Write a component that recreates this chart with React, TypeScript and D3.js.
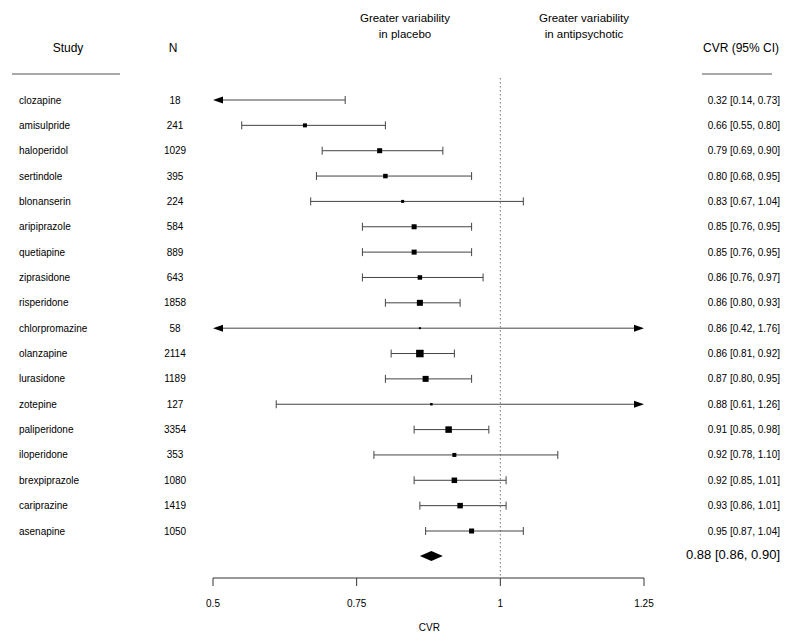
import React from "react";
import * as d3 from "d3";

const studies = ["clozapine","amisulpride","haloperidol","sertindole","blonanserin","aripiprazole","quetiapine","ziprasidone","risperidone","chlorpromazine","olanzapine","lurasidone","zotepine","paliperidone","iloperidone","brexpiprazole","cariprazine","asenapine"];
const nValues = [18,241,1029,395,224,584,889,643,1858,58,2114,1189,127,3354,353,1080,1419,1050];
const estimates = [0.32,0.66,0.79,0.80,0.83,0.85,0.85,0.86,0.86,0.86,0.86,0.87,0.88,0.91,0.92,0.92,0.93,0.95];
const lowers = [0.14,0.55,0.69,0.68,0.67,0.76,0.76,0.76,0.80,0.42,0.81,0.80,0.61,0.85,0.78,0.85,0.86,0.87];
const uppers = [0.73,0.80,0.90,0.95,1.04,0.95,0.95,0.97,0.93,1.76,0.92,0.95,1.26,0.98,1.10,1.01,1.01,1.04];
const markerSizes = [3,4,5,4.5,3,5,5,4.5,6,2,7.5,6,2.5,6.5,4,5.5,5.5,5];
const summary = { est: 0.88, lo: 0.86, hi: 0.90 };
const xTicks = [0.5, 0.75, 1, 1.25];

const font = "Liberation Sans, Arial, Helvetica, sans-serif";
const fmt = d3.format(".2f");

export default function App() {
  const W = 800, H = 642;
  const x = d3.scaleLinear().domain([0.5, 1.25]).range([213, 644]);
  const y = d3.scaleLinear().domain([0, studies.length - 1]).range([100, 531]);
  const [xmin, xmax] = x.domain();
  const ySum = 556;
  const axisY = 578;
  const lineColor = "#444";

  const arrowLeft = (yy: number) => {
    const tip = x(xmin);
    return `M${tip},${yy} L${tip + 10},${yy - 3.5} L${tip + 10},${yy + 3.5} Z`;
  };
  const arrowRight = (yy: number) => {
    const tip = x(xmax);
    return `M${tip},${yy} L${tip - 10},${yy - 3.5} L${tip - 10},${yy + 3.5} Z`;
  };

  return (
    <svg width={W} height={H} style={{ position: "absolute", left: 0, top: 0, background: "#fff" }} fontFamily={font}>
      {/* header */}
      <text x={68} y={52} fontSize={12} textAnchor="middle">Study</text>
      <text x={173} y={52} fontSize={12} textAnchor="middle">N</text>
      <line x1={12} x2={120} y1={74} y2={74} stroke="#555" strokeWidth={1.2} />
      <text x={741} y={52} fontSize={12} textAnchor="middle">CVR (95% CI)</text>
      <line x1={702} x2={772} y1={74} y2={74} stroke="#555" strokeWidth={1.2} />
      <text x={405} y={22} fontSize={11.5} textAnchor="middle">Greater variability</text>
      <text x={405} y={38} fontSize={11.5} textAnchor="middle">in placebo</text>
      <text x={584} y={22} fontSize={11.5} textAnchor="middle">Greater variability</text>
      <text x={584} y={38} fontSize={11.5} textAnchor="middle">in antipsychotic</text>

      {/* reference line */}
      <line x1={x(1)} x2={x(1)} y1={78} y2={axisY} stroke="#777" strokeWidth={1} strokeDasharray="1.5,2.5" />

      {studies.map((s, i) => {
        const yy = y(i);
        const lo = Math.max(lowers[i], xmin);
        const hi = Math.min(uppers[i], xmax);
        const loClipped = lowers[i] < xmin;
        const hiClipped = uppers[i] > xmax;
        const est = estimates[i];
        const sz = markerSizes[i];
        return (
          <g key={s}>
            <text x={19} y={yy + 3.5} fontSize={10}>{s}</text>
            <text x={175} y={yy + 3.5} fontSize={10} textAnchor="middle">{nValues[i]}</text>
            <line x1={x(lo) + (loClipped ? 6 : 0)} x2={x(hi) - (hiClipped ? 6 : 0)} y1={yy} y2={yy} stroke={lineColor} strokeWidth={1} />
            {loClipped ? <path d={arrowLeft(yy)} fill="#000" /> : <line x1={x(lo)} x2={x(lo)} y1={yy - 4} y2={yy + 4} stroke={lineColor} />}
            {hiClipped ? <path d={arrowRight(yy)} fill="#000" /> : <line x1={x(hi)} x2={x(hi)} y1={yy - 4} y2={yy + 4} stroke={lineColor} />}
            {est >= xmin && est <= xmax && (
              <rect x={x(est) - sz / 2} y={yy - sz / 2} width={sz} height={sz} fill="#000" />
            )}
            <text x={780} y={yy + 3.5} fontSize={10} textAnchor="end">
              {`${fmt(est)} [${fmt(lowers[i])}, ${fmt(uppers[i])}]`}
            </text>
          </g>
        );
      })}

      {/* summary diamond */}
      <path
        d={`M${x(summary.lo)},${ySum} L${x(summary.est)},${ySum - 5} L${x(summary.hi)},${ySum} L${x(summary.est)},${ySum + 5} Z`}
        fill="#000"
      />
      <text x={780} y={ySum + 3} fontSize={13} textAnchor="end">
        {`${fmt(summary.est)} [${fmt(summary.lo)}, ${fmt(summary.hi)}]`}
      </text>

      {/* axis */}
      <line x1={x(xmin)} x2={x(xmax)} y1={axisY} y2={axisY} stroke="#333" strokeWidth={1} />
      {xTicks.map((t) => (
        <g key={t}>
          <line x1={x(t)} x2={x(t)} y1={axisY} y2={axisY + 8} stroke="#333" />
          <text x={x(t)} y={axisY + 29} fontSize={10} textAnchor="middle">{String(t)}</text>
        </g>
      ))}
      <text x={x(1) - 71} y={631} fontSize={10} textAnchor="middle">CVR</text>
    </svg>
  );
}
